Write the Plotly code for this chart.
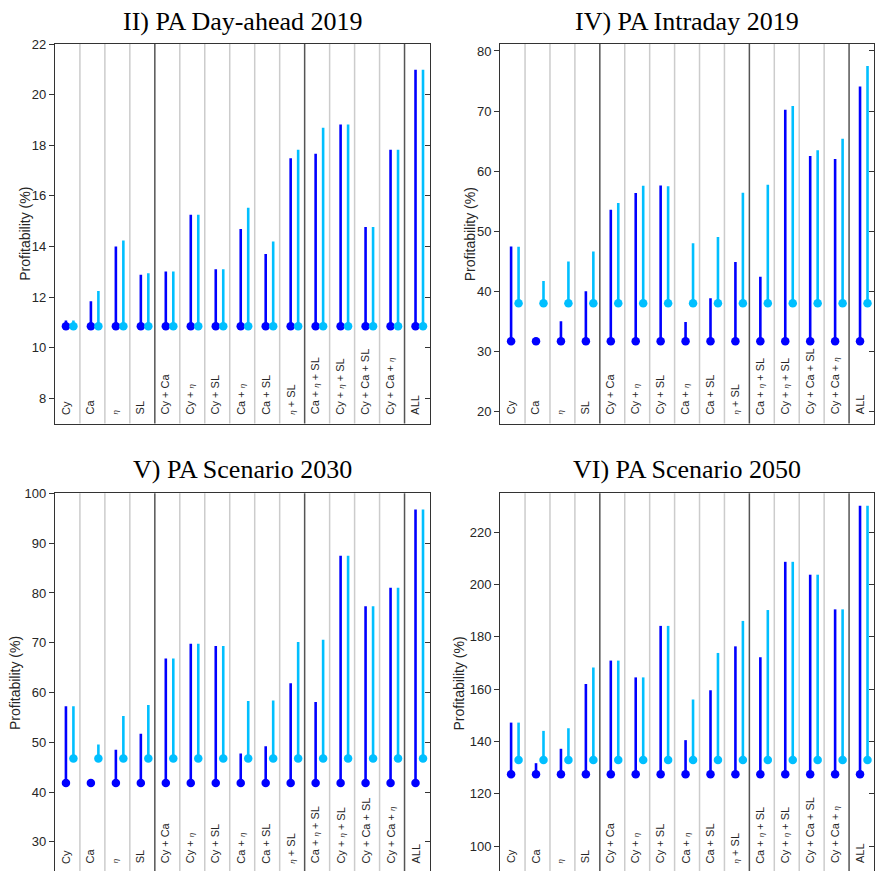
import plotly.graph_objects as go

# ---------------- data ----------------
categories = ["Cy", "Ca", "η", "SL", "Cy + Ca", "Cy + η", "Cy + SL", "Ca + η", "Ca + SL",
              "η + SL", "Ca + η + SL", "Cy + η + SL", "Cy + Ca + SL", "Cy + Ca + η", "ALL"]
titles = ["II) PA Day-ahead 2019", "IV) PA Intraday 2019", "V) PA Scenario 2030", "VI) PA Scenario 2050"]

# II) Day-ahead 2019
da_base_dark = 10.85
da_base_light = 10.85
da_top_dark = [11.07, 11.84, 14.0, 12.88, 13.01, 15.25, 13.1, 14.69, 13.7, 17.49, 17.66, 18.82, 14.77, 17.82, 20.98]
da_top_light = [11.07, 12.24, 14.24, 12.94, 13.01, 15.25, 13.1, 15.53, 14.2, 17.82, 18.69, 18.82, 14.77, 17.82, 20.98]

# IV) Intraday 2019
id_base_dark = 31.7
id_base_light = 38.0
id_top_dark = [47.46, 31.7, 35.0, 40.0, 53.55, 56.35, 57.6, 34.9, 38.85, 44.88, 42.41, 70.23, 62.5, 62.0, 74.07]
id_top_light = [47.4, 41.7, 44.94, 46.64, 54.7, 57.56, 57.5, 48.0, 49.05, 56.4, 57.72, 70.84, 63.48, 65.4, 77.48]

# V) Scenario 2030
s30_base_dark = 41.8
s30_base_light = 46.75
s30_top_dark = [57.22, 41.8, 48.48, 51.72, 66.82, 69.8, 69.34, 47.75, 49.2, 61.85, 58.08, 87.48, 77.35, 81.06, 96.75]
s30_top_light = [57.22, 49.54, 55.3, 57.48, 66.82, 69.8, 69.34, 58.28, 58.41, 70.13, 70.6, 87.48, 77.35, 81.06, 96.75]

# VI) Scenario 2050
s50_base_dark = 127.5
s50_base_light = 132.93
s50_top_dark = [147.2, 131.7, 137.2, 161.96, 170.9, 164.48, 184.16, 140.5, 159.56, 176.34, 172.18, 208.64, 203.72, 190.47, 230.1]
s50_top_light = [147.2, 144.04, 145.05, 168.26, 170.9, 164.48, 184.16, 156.03, 173.82, 186.06, 190.22, 208.64, 203.72, 190.47, 230.1]

y_ranges = [[7, 22], [17.97, 81.16], [24.15, 100], [90.5, 234.8]]
y_ticks = [list(range(8, 23, 2)), list(range(20, 81, 10)), list(range(30, 101, 10)), list(range(100, 221, 20))]

panels = [
    (da_base_dark, da_base_light, da_top_dark, da_top_light),
    (id_base_dark, id_base_light, id_top_dark, id_top_light),
    (s30_base_dark, s30_base_light, s30_top_dark, s30_top_light),
    (s50_base_dark, s50_base_light, s50_top_dark, s50_top_light),
]

# ---------------- layout geometry ----------------
W, H = 875, 871
x_doms = [[55 / W, 430 / W], [500.7 / W, 1.0], [55 / W, 430 / W], [500.7 / W, 1.0]]
y_doms = [[1 - 420 / H, 1 - 37.3 / H], [1 - 420 / H, 1 - 37.3 / H], [0, 1 - 490.3 / H], [0, 1 - 490.3 / H]]

DARK = "#0000ff"
LIGHT = "#00bfff"
OFF_D, OFF_L = 0.44, 0.74
group_ends = {4, 10, 14}

fig = go.Figure()
layout = dict(width=W, height=H, margin=dict(l=0, r=0, t=0, b=0),
              paper_bgcolor="white", plot_bgcolor="white", showlegend=False)
shapes = []
annotations = []

for p, (bd, bl, td, tl) in enumerate(panels):
    xa = "x" if p == 0 else f"x{p + 1}"
    ya = "y" if p == 0 else f"y{p + 1}"
    yo = f"y{p + 5}"
    xs_d = [k + OFF_D for k in range(len(categories))]
    xs_l = [k + OFF_L for k in range(len(categories))]
    for xs, base, tops, col in [(xs_d, bd, td, DARK), (xs_l, bl, tl, LIGHT)]:
        lx, ly = [], []
        for x, t in zip(xs, tops):
            lx += [x, x, None]
            ly += [base, t, None]
        fig.add_trace(go.Scatter(x=lx, y=ly, mode="lines", line=dict(color=col, width=2.6),
                                 xaxis=xa, yaxis=ya, hoverinfo="skip"))
        fig.add_trace(go.Scatter(x=xs, y=[base] * len(xs), mode="markers",
                                 marker=dict(color=col, size=8.5, line=dict(width=0)),
                                 xaxis=xa, yaxis=ya, hoverinfo="skip"))
    # dummy trace for right-side tick axis
    fig.add_trace(go.Scatter(x=[None], y=[None], xaxis=xa, yaxis=yo, hoverinfo="skip"))

    xkey = "xaxis" if p == 0 else f"xaxis{p + 1}"
    ykey = "yaxis" if p == 0 else f"yaxis{p + 1}"
    layout[xkey] = dict(domain=x_doms[p], anchor=ya, range=[0, len(categories)], showgrid=False,
                        zeroline=False, showticklabels=False, ticks="", showline=True,
                        linecolor="#333333", linewidth=1.3, mirror=True)
    layout[ykey] = dict(domain=y_doms[p], anchor=xa, range=y_ranges[p], tickvals=y_ticks[p],
                        showgrid=False, zeroline=False, ticks="outside", ticklen=5, tickwidth=1,
                        tickcolor="#333333", showline=True, linecolor="#333333", linewidth=1.3,
                        mirror=True,
                        tickfont=dict(family="Liberation Sans, Arial", size=13, color="#262626"))
    layout[f"yaxis{p + 5}"] = dict(overlaying=ya, side="right", anchor=xa, range=y_ranges[p],
                                   tickvals=y_ticks[p], showgrid=False, zeroline=False,
                                   ticks="inside", ticklen=5, tickwidth=1, tickcolor="#333333",
                                   showticklabels=False, showline=False)

    # separators
    for b in range(1, len(categories)):
        dark = b in group_ends
        shapes.append(dict(type="line", xref=xa, yref=f"{ya} domain", x0=b, x1=b, y0=0, y1=1,
                           layer="below",
                           line=dict(color="#555555" if dark else "#cccccc", width=1.5)))
    # category labels
    for k, c in enumerate(categories):
        txt = c.replace("η", "<i><span style='font-size:8px'>η</span></i>")
        annotations.append(dict(x=k + 0.42, xref=xa, y=0, yref=f"{ya} domain", yanchor="bottom",
                                xanchor="center", yshift=7 if p < 2 else 5.5, textangle=-90,
                                text=txt, showarrow=False,
                                font=dict(family="Liberation Sans, Arial", size=11, color="#262626")))
    # title
    xc = (x_doms[p][0] + x_doms[p][1]) / 2
    ty = 1 - 31 / H if p < 2 else 1 - 483 / H
    annotations.append(dict(x=xc, xref="paper", y=ty, yref="paper", yanchor="bottom", xanchor="center",
                            text=titles[p], showarrow=False,
                            font=dict(family="Liberation Serif, serif", size=26, color="black")))
    # y-axis label
    lab_x = [25, 470, 15, 460][p] / W
    annotations.append(dict(x=lab_x, xref="paper", y=(y_doms[p][0] + y_doms[p][1]) / 2 if p < 2 else (1 - 681.5 / H),
                            yref="paper", xanchor="center", yanchor="middle", textangle=-90,
                            text="Profitability (%)", showarrow=False,
                            font=dict(family="Liberation Sans, Arial", size=14, color="#262626")))

layout["shapes"] = shapes
layout["annotations"] = annotations
fig.update_layout(**layout)
fig.write_html("out.html")
